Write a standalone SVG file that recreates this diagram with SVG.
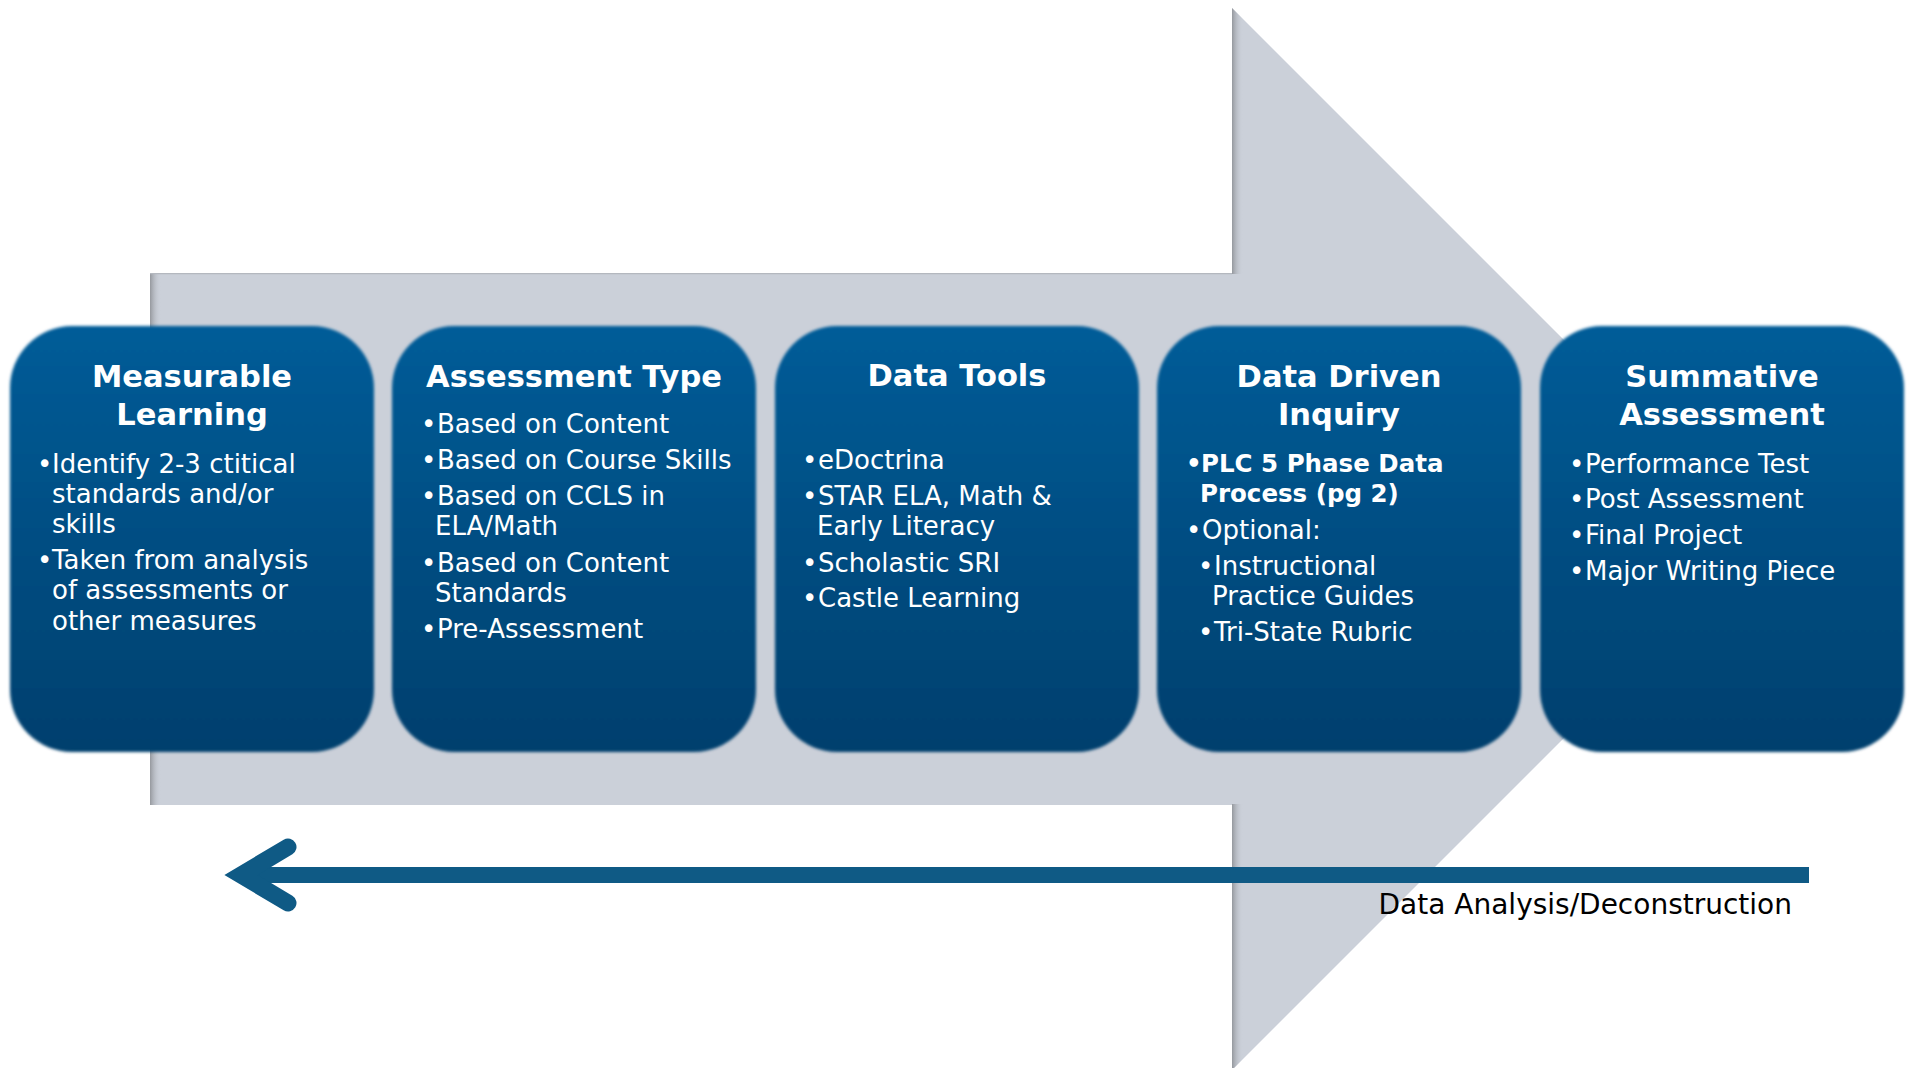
<svg xmlns="http://www.w3.org/2000/svg" width="1910" height="1068" viewBox="0 0 1910 1068">
<defs>
<style>
.title{font-family:"DejaVu Sans","Liberation Sans",sans-serif;font-weight:bold;font-size:30.5px;fill:#ffffff;text-anchor:middle}
.body{font-family:"DejaVu Sans","Liberation Sans",sans-serif;font-size:26px;fill:#ffffff}
.bold{font-weight:bold;font-size:24.5px}
.label{font-family:"DejaVu Sans","Liberation Sans",sans-serif;font-size:28px;fill:#000000}
.box{fill:url(#boxGrad);filter:url(#soft)}
</style>
<linearGradient id="boxGrad" x1="0" y1="0" x2="0" y2="1">
<stop offset="0" stop-color="#025C98"/>
<stop offset="1" stop-color="#023F6D"/>
</linearGradient>
<linearGradient id="shadeL" x1="0" y1="0" x2="1" y2="0">
<stop offset="0" stop-color="#8f9297" stop-opacity="0.9"/>
<stop offset="1" stop-color="#CBD0D9" stop-opacity="0"/>
</linearGradient>
<filter id="soft" x="-5%" y="-5%" width="110%" height="110%">
<feGaussianBlur stdDeviation="1.6"/>
</filter>
<clipPath id="arrowClip">
<path d="M150,273 H1232 V8 L1763,539 L1232,1070 V805 H150 Z"/>
</clipPath>
</defs>
<rect width="1910" height="1068" fill="#ffffff"/>
<g id="background-arrow">
<path d="M150,273 H1232 V8 L1763,539 L1232,1070 V805 H150 Z" fill="#CBD0D9"/>
<g clip-path="url(#arrowClip)">
<rect x="150" y="273" width="11" height="532" fill="url(#shadeL)"/>
<rect x="1232" y="8" width="11" height="266" fill="url(#shadeL)"/>
<rect x="1232" y="804" width="11" height="266" fill="url(#shadeL)"/>
<line x1="150" y1="273.5" x2="1232" y2="273.5" stroke="#b4b8bf" stroke-width="1.5"/>
</g>
</g>
<g id="node-measurable-learning">
<rect class="box" x="10" y="326" width="364" height="426" rx="62"/>
<text class="title" x="192" y="387">Measurable</text>
<text class="title" x="192" y="425">Learning</text>
<text class="body"><tspan x="37" y="473">•</tspan><tspan x="52" y="473">Identify 2-3 ctitical</tspan><tspan x="52" y="503">standards and/or</tspan><tspan x="52" y="533">skills</tspan></text>
<text class="body"><tspan x="37" y="569">•</tspan><tspan x="52" y="569">Taken from analysis</tspan><tspan x="52" y="599">of assessments or</tspan><tspan x="52" y="630">other measures</tspan></text>
</g>
<g id="node-assessment-type">
<rect class="box" x="392" y="326" width="364" height="426" rx="62"/>
<text class="title" x="574" y="387">Assessment Type</text>
<text class="body"><tspan x="421" y="433">•</tspan><tspan x="437" y="433">Based on Content</tspan></text>
<text class="body"><tspan x="421" y="469">•</tspan><tspan x="437" y="469">Based on Course Skills</tspan></text>
<text class="body"><tspan x="421" y="505">•</tspan><tspan x="437" y="505">Based on CCLS in</tspan><tspan x="435" y="535">ELA/Math</tspan></text>
<text class="body"><tspan x="421" y="572">•</tspan><tspan x="437" y="572">Based on Content</tspan><tspan x="435" y="602">Standards</tspan></text>
<text class="body"><tspan x="421" y="638">•</tspan><tspan x="437" y="638">Pre-Assessment</tspan></text>
</g>
<g id="node-data-tools">
<rect class="box" x="775" y="326" width="364" height="426" rx="62"/>
<text class="title" x="957" y="386">Data Tools</text>
<text class="body"><tspan x="802" y="469">•</tspan><tspan x="818" y="469">eDoctrina</tspan></text>
<text class="body"><tspan x="802" y="505">•</tspan><tspan x="818" y="505">STAR ELA, Math &amp;</tspan><tspan x="817" y="535">Early Literacy</tspan></text>
<text class="body"><tspan x="802" y="572">•</tspan><tspan x="818" y="572">Scholastic SRI</tspan></text>
<text class="body"><tspan x="802" y="607">•</tspan><tspan x="818" y="607">Castle Learning</tspan></text>
</g>
<g id="node-data-driven-inquiry">
<rect class="box" x="1157" y="326" width="364" height="426" rx="62"/>
<text class="title" x="1339" y="387">Data Driven</text>
<text class="title" x="1339" y="425">Inquiry</text>
<text class="body bold"><tspan x="1186" y="472">•</tspan><tspan x="1201" y="472">PLC 5 Phase Data</tspan><tspan x="1200" y="502">Process (pg 2)</tspan></text>
<text class="body"><tspan x="1186" y="539">•</tspan><tspan x="1202" y="539">Optional:</tspan></text>
<text class="body"><tspan x="1198" y="575">•</tspan><tspan x="1214" y="575">Instructional</tspan><tspan x="1212" y="605">Practice Guides</tspan></text>
<text class="body"><tspan x="1198" y="641">•</tspan><tspan x="1214" y="641">Tri-State Rubric</tspan></text>
</g>
<g id="node-summative-assessment">
<rect class="box" x="1540" y="326" width="364" height="426" rx="62"/>
<text class="title" x="1722" y="387">Summative</text>
<text class="title" x="1722" y="425">Assessment</text>
<text class="body"><tspan x="1569" y="473">•</tspan><tspan x="1585" y="473">Performance Test</tspan></text>
<text class="body"><tspan x="1569" y="508">•</tspan><tspan x="1585" y="508">Post Assessment</tspan></text>
<text class="body"><tspan x="1569" y="544">•</tspan><tspan x="1585" y="544">Final Project</tspan></text>
<text class="body"><tspan x="1569" y="580">•</tspan><tspan x="1585" y="580">Major Writing Piece</tspan></text>
</g>
<g id="connectors">
<line x1="1809" y1="875" x2="242" y2="875" stroke="#0F5A85" stroke-width="16"/>
<polyline points="288,847 241,875 288,903" fill="none" stroke="#0F5A85" stroke-width="17" stroke-linejoin="miter" stroke-linecap="round"/>
<text class="label" x="1792" y="914" text-anchor="end">Data Analysis/Deconstruction</text>
</g>
</svg>
